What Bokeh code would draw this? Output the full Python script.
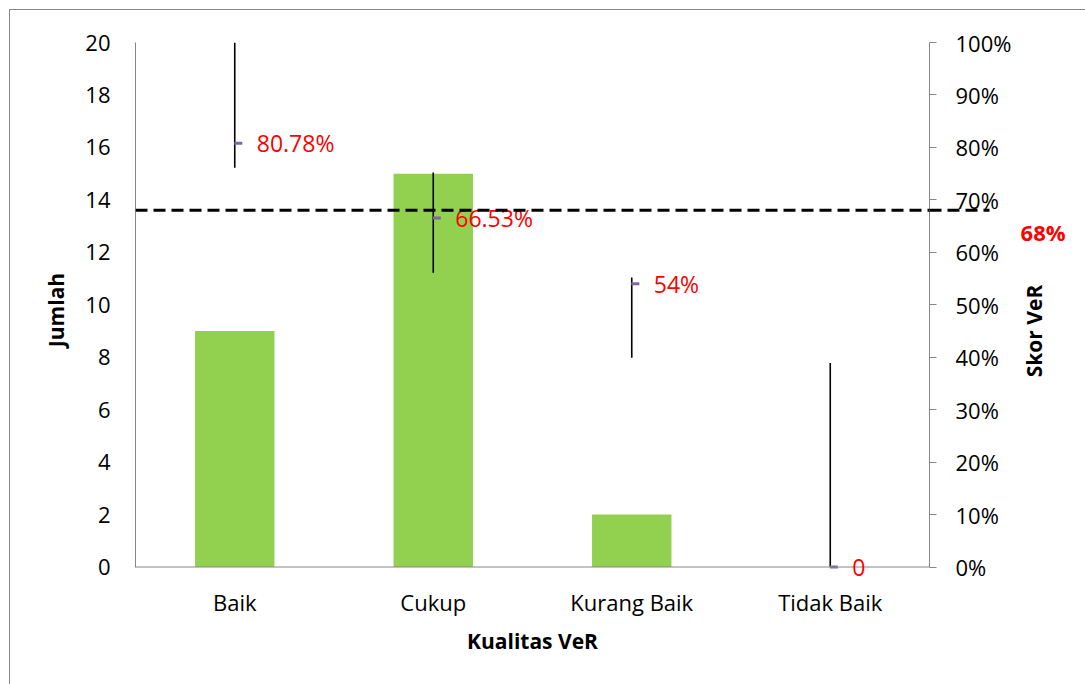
from bokeh.plotting import figure
from bokeh.models import (Range1d, LinearAxis, FixedTicker, Label, LabelSet, Span,
                          ColumnDataSource, PrintfTickFormatter, InlineStyleSheet)
from bokeh.transform import dodge
from bokeh.core.properties import value
from bokeh.embed import file_html
from bokeh.resources import INLINE

# ---- data ----
categories = ["Baik", "Cukup", "Kurang Baik", "Tidak Baik"]
jumlah = [9, 15, 2, 0]
skor = [80.78, 66.53, 54.0, 0.0]
skor_labels = ["80.78%", "66.53%", "54%", "0"]
err_low = [76.1, 56.1, 39.9, 0.0]
err_high = [100.0, 75.2, 55.2, 38.9]
threshold = 68.0
threshold_label = "68%"
left_ticks = [0, 2, 4, 6, 8, 10, 12, 14, 16, 18, 20]
right_ticks = [0, 10, 20, 30, 40, 50, 60, 70, 80, 90, 100]

FONT = "Open Sans"
AXIS_GRAY = "#868686"
TICK_SIZE = "22px"

n = len(categories)
xs = [i + 0.5 for i in range(n)]          # category centres
Y_PAD = 0.02                              # small room under zero so marks at 0 are not cut

src = ColumnDataSource(dict(x=xs, jumlah=jumlah, skor=skor, lbl=skor_labels,
                            lo=err_low, hi=err_high))

p = figure(width=1085, height=684,
           x_range=Range1d(0, n),
           y_range=Range1d(-Y_PAD * max(left_ticks), max(left_ticks)),
           output_backend="svg", toolbar_location=None,
           min_border_left=135, min_border_right=156,
           min_border_top=42, min_border_bottom=107)
p.extra_y_ranges = {"pct": Range1d(-Y_PAD * max(right_ticks), max(right_ticks))}
p.outline_line_color = None
p.grid.visible = False
p.background_fill_color = "white"
p.border_fill_color = "white"
p.stylesheets = [InlineStyleSheet(css=(
    ":host::after{content:'';position:absolute;left:9px;top:9px;right:0;bottom:0;"
    "border-left:1px solid #868686;border-top:1px solid #868686;pointer-events:none;}"
    ":host{position:relative;}"))]

# zero baseline (category axis line)
p.add_layout(Span(location=0, dimension="width", line_color=AXIS_GRAY, line_width=1))

# bars
p.vbar(x="x", top="jumlah", width=0.4, source=src, fill_color="#92D050", line_color=None)

# error lines
p.segment(x0="x", y0="lo", x1="x", y1="hi", source=src, y_range_name="pct",
          line_color="black", line_width=1.6)

# score markers
p.scatter(x=dodge("x", 0.018), y="skor", source=src, y_range_name="pct",
          marker="dash", size=8, line_width=3, line_color="#8064A2")

# score labels
p.add_layout(LabelSet(x="x", y="skor", text="lbl", source=src, y_range_name="pct",
                      x_offset=22, text_baseline="middle", text_align="left",
                      text_color="#FF0000", text_font=value(FONT), text_font_size="23px"))

# threshold dashed line, continued a little past the right axis
p.add_layout(Span(location=threshold, dimension="width", y_range_name="pct",
                  line_color="black", line_width=3, line_dash="12 6"))
p.add_layout(Label(x=n, y=threshold, y_range_name="pct", text=" ",
                   text_font_size="0px", text_align="left", text_baseline="middle",
                   padding=dict(left=0, right=60, top=0, bottom=0),
                   border_line_color="black", border_line_width=3,
                   border_line_dash="12 6"), "above")
p.add_layout(Label(x=n + 0.572, y=threshold, y_range_name="pct", y_offset=-22,
                   text=threshold_label, text_align="center", text_baseline="middle",
                   text_color="#FF0000", text_font=FONT, text_font_style="bold",
                   text_font_size="22px"), "above")

# right axis title
p.add_layout(Label(x=n + 0.524, y=45, y_range_name="pct", angle=1.5708,
                   text="Skor VeR", text_align="center", text_baseline="middle",
                   text_color="black", text_font=FONT, text_font_style="bold",
                   text_font_size="21px"), "left")

# left axis
ya = p.yaxis[0]
ya.ticker = FixedTicker(ticks=left_ticks)
ya.bounds = (0, max(left_ticks))
ya.major_tick_out = 0
ya.major_tick_in = 0
ya.minor_tick_out = 0
ya.minor_tick_in = 0
ya.axis_line_color = AXIS_GRAY
ya.major_label_standoff = 25
ya.major_label_text_font = FONT
ya.major_label_text_font_size = TICK_SIZE
ya.major_label_text_color = "black"
ya.axis_label = "Jumlah"
ya.axis_label_text_font = FONT
ya.axis_label_text_font_style = "bold"
ya.axis_label_text_font_size = "21px"
ya.axis_label_text_color = "black"
ya.axis_label_standoff = 12

# right axis
ra = LinearAxis(y_range_name="pct", ticker=FixedTicker(ticks=right_ticks),
                formatter=PrintfTickFormatter(format="%d%%"),
                bounds=(0, max(right_ticks)))
ra.major_tick_out = 7
ra.major_tick_in = 0
ra.minor_tick_out = 0
ra.minor_tick_in = 0
ra.axis_line_color = AXIS_GRAY
ra.major_tick_line_color = AXIS_GRAY
ra.major_label_standoff = 19
ra.major_label_text_font = FONT
ra.major_label_text_font_size = TICK_SIZE
ra.major_label_text_color = "black"
p.add_layout(ra, "right")

# bottom axis
xa = p.xaxis[0]
xa.ticker = FixedTicker(ticks=xs)
xa.major_label_overrides = {x: c for x, c in zip(xs, categories)}
xa.major_tick_out = 0
xa.major_tick_in = 0
xa.minor_tick_out = 0
xa.minor_tick_in = 0
xa.axis_line_color = None
xa.major_label_standoff = 9
xa.major_label_text_font = FONT
xa.major_label_text_font_size = TICK_SIZE
xa.major_label_text_color = "black"
xa.axis_label = "Kualitas VeR"
xa.axis_label_text_font = FONT
xa.axis_label_text_font_style = "bold"
xa.axis_label_text_font_size = "21px"
xa.axis_label_text_color = "black"
xa.axis_label_standoff = 7

open("out.html", "w").write(file_html(p, INLINE))
